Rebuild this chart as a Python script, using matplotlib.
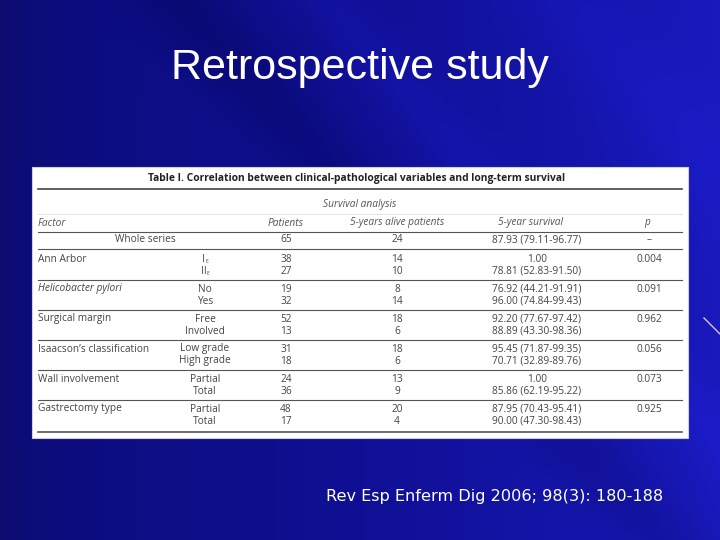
import numpy as np
import matplotlib
matplotlib.use("Agg")
import matplotlib.pyplot as plt
from matplotlib.patches import Rectangle

# ---- data ----
slide_title = "Retrospective study"
table_title = "Table I. Correlation between clinical-pathological variables and long-term survival"
group_header = "Survival analysis"
col_headers = ["Factor", "Patients", "5-years alive patients", "5-year survival", "p"]
whole_series = ["Whole series", "65", "24", "87.93 (79.11-96.77)", "\u2013"]
factors = ["Ann Arbor", "Helicobacter pylori", "Surgical margin",
           "Isaacson\u2019s classification", "Wall involvement", "Gastrectomy type"]
levels = [["I", "II"], ["No", "Yes"], ["Free", "Involved"],
          ["Low grade", "High grade"], ["Partial", "Total"], ["Partial", "Total"]]
level_subscript = "E"
patients = [[38, 27], [19, 32], [52, 13], [31, 18], [24, 36], [48, 17]]
alive = [[14, 10], [8, 14], [18, 6], [18, 6], [13, 9], [20, 4]]
survival = [["1.00", "78.81 (52.83-91.50)"],
            ["76.92 (44.21-91.91)", "96.00 (74.84-99.43)"],
            ["92.20 (77.67-97.42)", "88.89 (43.30-98.36)"],
            ["95.45 (71.87-99.35)", "70.71 (32.89-89.76)"],
            ["1.00", "85.86 (62.19-95.22)"],
            ["87.95 (70.43-95.41)", "90.00 (47.30-98.43)"]]
p_values = ["0.004", "0.091", "0.962", "0.056", "0.073", "0.925"]
citation = "Rev Esp Enferm Dig 2006; 98(3): 180-188"

W, H = 720, 540
fig = plt.figure(figsize=(7.2, 5.4), dpi=100)
ax = fig.add_axes([0, 0, 1, 1])
ax.set_xlim(0, W)
ax.set_ylim(H, 0)
ax.axis("off")

# ---- background: blue with diagonal sheen ----
yy, xx = np.mgrid[0:H, 0:W]
base = np.zeros((H, W, 3))
t = xx / W
r = 0.05 + 0.05 * t ** 2
g = 0.05 + 0.05 * t ** 2
b = 0.50 + 0.24 * t ** 1.5
d = (xx - 0.9 * yy) / W
streak = 0.05 * np.exp(-((d - 0.45) / 0.05) ** 2) + 0.04 * np.exp(-((d - 0.78) / 0.08) ** 2) \
         - 0.07 * np.exp(-((d - 0.25) / 0.07) ** 2)
b = b + streak
r = r + streak * 0.2
g = g + streak * 0.2
b = b - 0.06 * np.exp(-xx / 40.0)
base[..., 0] = np.clip(r, 0, 1)
base[..., 1] = np.clip(g, 0, 1)
base[..., 2] = np.clip(b, 0, 1)
ax.imshow(base, extent=(0, W, H, 0), aspect="auto", zorder=0)

ax.text(360, 68, slide_title, color="white", fontsize=31, family="Liberation Sans",
        ha="center", va="center", zorder=3)
ax.text(495, 497, citation, color="white", fontsize=11.6, family="DejaVu Sans",
        ha="center", va="center", zorder=3)
ax.plot([704, 720], [318, 334], color="#d8c0ff", lw=1.0, zorder=2)

# ---- table ----
ax.add_patch(Rectangle((32, 167), 656, 271, facecolor="white", edgecolor="#d0d0d0", lw=0.8, zorder=1))
tc = "#444444"
fs = 7.3
fam = "Open Sans"
xl, xr = 38, 682
x_fac, x_lvl, x_pat, x_alv, x_srv, x_p = 38, 205, 286, 397, 537, 649

ax.text(357, 179, table_title, color="#222222", fontsize=7.4, family=fam, weight="bold",
        ha="center", va="center", zorder=3)
ax.plot([xl, xr], [189, 189], color="#444444", lw=1.2, zorder=2)
ax.text(323, 204, group_header, color="#555555", fontsize=fs, family=fam, style="italic",
        ha="left", va="center", zorder=3)
ax.plot([xl, xr], [213.5, 213.5], color="#dddddd", lw=0.6, zorder=2)
hy = 223
ax.text(x_fac, hy, col_headers[0], color="#555555", fontsize=fs, family=fam, style="italic",
        ha="left", va="center", zorder=3)
for x, s in zip([x_pat, x_alv, 530, 647], col_headers[1:]):
    ax.text(x, hy, s, color="#555555", fontsize=fs, family=fam, style="italic",
            ha="center", va="center", zorder=3)
ax.plot([xl, xr], [231.5, 231.5], color="#555555", lw=0.8, zorder=2)

wy = 240
ax.text(145, wy, whole_series[0], color=tc, fontsize=fs, family=fam, ha="center", va="center", zorder=3)
for x, s in zip([x_pat, x_alv, x_srv, x_p], whole_series[1:]):
    ax.text(x, wy, s, color=tc, fontsize=fs, family=fam, ha="center", va="center", zorder=3)
ax.plot([xl, xr], [248.5, 248.5], color="#555555", lw=0.8, zorder=2)

y0 = 259
for i, f in enumerate(factors):
    ya = y0 + 30 * i
    yb = ya + 12
    ax.text(x_fac, ya, f, color=tc, fontsize=fs, family=fam,
            style="italic" if i == 1 else "normal", ha="left", va="center", zorder=3)
    for j, y in enumerate([ya, yb]):
        if i == 0:
            lx = 202 if j == 0 else 201.5
            tl = ax.text(lx, y, levels[i][j], color=tc, fontsize=fs, family=fam,
                         ha="left", va="center", zorder=3)
            ax.text(lx + (3.2 if j == 0 else 5.0), y + 2.5, level_subscript, color=tc,
                    fontsize=3.6, family=fam, ha="left", va="center", zorder=3)
        else:
            ax.text(x_lvl, y, levels[i][j], color=tc, fontsize=fs, family=fam,
                    ha="center", va="center", zorder=3)
        ax.text(x_pat, y, str(patients[i][j]), color=tc, fontsize=fs, family=fam,
                ha="center", va="center", zorder=3)
        ax.text(x_alv, y, str(alive[i][j]), color=tc, fontsize=fs, family=fam,
                ha="center", va="center", zorder=3)
        ax.text(x_srv, y, survival[i][j], color=tc, fontsize=fs, family=fam,
                ha="center", va="center", zorder=3)
    ax.text(x_p, ya, p_values[i], color=tc, fontsize=fs, family=fam,
            ha="center", va="center", zorder=3)
    ly = yb + 9
    if i < len(factors) - 1:
        ax.plot([xl, xr], [ly, ly], color="#555555", lw=0.8, zorder=2)
    else:
        ax.plot([xl, xr], [ly + 2, ly + 2], color="#555555", lw=1.2, zorder=2)

fig.savefig("out.png", dpi=100)
